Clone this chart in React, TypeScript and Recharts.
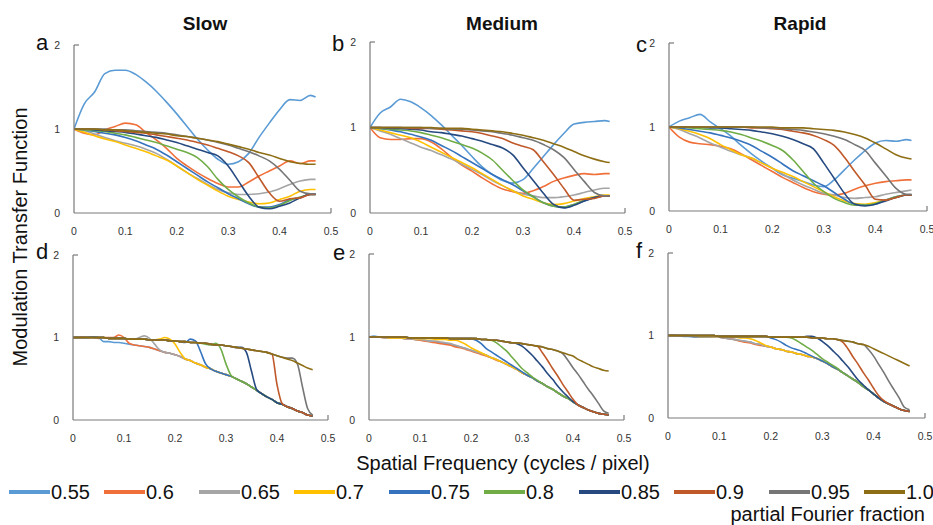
import React from "react";
import { LineChart, Line, XAxis, YAxis } from "recharts";

const FONT = '"Liberation Sans", Arial, Helvetica, sans-serif';
const AXIS_COLOR = "#7a7a7a";

// partial Fourier fractions, legend order = draw order
const FRACTIONS = ["0.55", "0.6", "0.65", "0.7", "0.75", "0.8", "0.85", "0.9", "0.95", "1.0"];
const COLORS = [
  "#5B9BD5", // 0.55
  "#F0703A", // 0.6
  "#A5A5A5", // 0.65
  "#FFC000", // 0.7
  "#3573BE", // 0.75
  "#70AD47", // 0.8
  "#264A80", // 0.85
  "#C0592A", // 0.9
  "#767676", // 0.95
  "#8E6E14", // 1.0
];

const SPEEDS = ["Slow", "Medium", "Rapid"];
const X_TICKS = [0, 0.1, 0.2, 0.3, 0.4, 0.5];
const Y_TICKS = [0, 1, 2];

// spatial frequency samples (cycles / pixel)
const FREQ_TOP = [0, 0.02, 0.04, 0.06, 0.08, 0.1, 0.12, 0.14, 0.16, 0.18, 0.2, 0.22, 0.24, 0.26, 0.28, 0.3, 0.32, 0.34, 0.36, 0.38, 0.4, 0.42, 0.44, 0.46, 0.47];
const FREQ_BOTTOM = [
  0, 0.01, 0.02, 0.03, 0.04, 0.05, 0.06, 0.07, 0.08, 0.09, 0.1, 0.11, 0.12, 0.13, 0.14, 0.15,
  0.16, 0.17, 0.18, 0.19, 0.2, 0.21, 0.22, 0.23, 0.24, 0.25, 0.26, 0.27, 0.28, 0.29, 0.3, 0.31,
  0.32, 0.33, 0.34, 0.35, 0.36, 0.37, 0.38, 0.39, 0.4, 0.41, 0.42, 0.43, 0.44, 0.45, 0.46, 0.47,
];

// a — Slow (top row), one row per fraction
const MTF_A = [
  [1.00, 1.30, 1.44, 1.66, 1.70, 1.70, 1.65, 1.56, 1.45, 1.32, 1.18, 1.03, 0.88, 0.75, 0.64, 0.58, 0.61, 0.71, 0.90, 1.07, 1.23, 1.35, 1.34, 1.40, 1.38],
  [1.00, 0.95, 0.93, 0.99, 1.03, 1.07, 1.05, 0.96, 0.87, 0.77, 0.65, 0.56, 0.48, 0.41, 0.35, 0.31, 0.31, 0.37, 0.44, 0.50, 0.56, 0.62, 0.59, 0.62, 0.62],
  [1.00, 0.98, 0.94, 0.90, 0.86, 0.83, 0.80, 0.76, 0.71, 0.64, 0.56, 0.48, 0.41, 0.34, 0.28, 0.24, 0.22, 0.22, 0.23, 0.25, 0.29, 0.34, 0.38, 0.40, 0.40],
  [1.00, 0.96, 0.92, 0.88, 0.85, 0.81, 0.77, 0.73, 0.68, 0.63, 0.56, 0.48, 0.40, 0.33, 0.26, 0.20, 0.16, 0.13, 0.11, 0.12, 0.16, 0.20, 0.26, 0.28, 0.28],
  [1.00, 0.99, 0.97, 0.95, 0.93, 0.90, 0.86, 0.81, 0.76, 0.69, 0.61, 0.53, 0.45, 0.37, 0.30, 0.23, 0.17, 0.11, 0.07, 0.07, 0.10, 0.16, 0.18, 0.23, 0.23],
  [1.00, 0.99, 0.98, 0.97, 0.95, 0.93, 0.90, 0.87, 0.84, 0.80, 0.76, 0.72, 0.66, 0.55, 0.40, 0.28, 0.19, 0.12, 0.07, 0.06, 0.09, 0.15, 0.19, 0.22, 0.22],
  [1.00, 1.00, 0.99, 0.98, 0.97, 0.96, 0.94, 0.92, 0.90, 0.87, 0.84, 0.80, 0.76, 0.72, 0.68, 0.56, 0.38, 0.20, 0.07, 0.05, 0.08, 0.12, 0.18, 0.22, 0.22],
  [1.00, 1.00, 1.00, 0.99, 0.98, 0.97, 0.96, 0.95, 0.93, 0.91, 0.89, 0.87, 0.84, 0.81, 0.77, 0.73, 0.68, 0.60, 0.42, 0.24, 0.14, 0.17, 0.18, 0.22, 0.22],
  [1.00, 1.00, 1.00, 1.00, 0.99, 0.99, 0.98, 0.97, 0.96, 0.95, 0.93, 0.91, 0.89, 0.87, 0.84, 0.81, 0.77, 0.73, 0.68, 0.62, 0.52, 0.39, 0.26, 0.23, 0.23],
  [1.00, 1.00, 1.00, 0.99, 0.99, 0.98, 0.97, 0.96, 0.95, 0.94, 0.92, 0.91, 0.89, 0.87, 0.85, 0.82, 0.79, 0.76, 0.72, 0.69, 0.65, 0.61, 0.59, 0.58, 0.58],
];

// b — Medium (top row)
const MTF_B = [
  [1.00, 1.17, 1.24, 1.33, 1.30, 1.23, 1.14, 1.03, 0.91, 0.79, 0.66, 0.54, 0.45, 0.38, 0.35, 0.39, 0.52, 0.66, 0.80, 0.93, 1.04, 1.06, 1.07, 1.08, 1.07],
  [1.00, 0.88, 0.86, 0.86, 0.87, 0.87, 0.83, 0.75, 0.65, 0.56, 0.49, 0.41, 0.34, 0.28, 0.25, 0.23, 0.26, 0.31, 0.37, 0.41, 0.44, 0.46, 0.45, 0.46, 0.46],
  [1.00, 0.96, 0.92, 0.87, 0.82, 0.77, 0.73, 0.68, 0.63, 0.57, 0.51, 0.45, 0.38, 0.32, 0.26, 0.22, 0.20, 0.18, 0.18, 0.19, 0.21, 0.24, 0.27, 0.29, 0.29],
  [1.00, 0.97, 0.94, 0.91, 0.88, 0.83, 0.77, 0.71, 0.65, 0.59, 0.53, 0.46, 0.39, 0.32, 0.26, 0.20, 0.16, 0.12, 0.10, 0.11, 0.14, 0.17, 0.19, 0.21, 0.21],
  [1.00, 0.99, 0.97, 0.95, 0.92, 0.89, 0.85, 0.79, 0.73, 0.66, 0.59, 0.52, 0.45, 0.39, 0.33, 0.26, 0.19, 0.12, 0.08, 0.07, 0.10, 0.14, 0.18, 0.20, 0.20],
  [1.00, 0.99, 0.98, 0.97, 0.96, 0.94, 0.91, 0.88, 0.84, 0.80, 0.76, 0.70, 0.62, 0.50, 0.38, 0.27, 0.19, 0.12, 0.08, 0.07, 0.10, 0.15, 0.18, 0.20, 0.20],
  [1.00, 1.00, 0.99, 0.99, 0.98, 0.97, 0.95, 0.94, 0.92, 0.90, 0.87, 0.84, 0.80, 0.76, 0.68, 0.53, 0.38, 0.23, 0.10, 0.06, 0.09, 0.14, 0.18, 0.20, 0.20],
  [1.00, 1.00, 1.00, 1.00, 0.99, 0.99, 0.99, 0.98, 0.97, 0.96, 0.95, 0.93, 0.90, 0.87, 0.82, 0.78, 0.74, 0.60, 0.45, 0.29, 0.15, 0.16, 0.17, 0.20, 0.20],
  [1.00, 1.00, 1.00, 1.00, 1.00, 1.00, 0.99, 0.99, 0.98, 0.98, 0.97, 0.96, 0.95, 0.93, 0.91, 0.88, 0.85, 0.80, 0.74, 0.65, 0.51, 0.37, 0.24, 0.20, 0.20],
  [1.00, 1.00, 1.00, 1.00, 1.00, 1.00, 1.00, 0.99, 0.99, 0.99, 0.98, 0.97, 0.96, 0.95, 0.93, 0.91, 0.88, 0.85, 0.81, 0.77, 0.72, 0.67, 0.63, 0.60, 0.59],
];

// c — Rapid (top row)
const MTF_C = [
  [1.00, 1.07, 1.11, 1.15, 1.06, 0.98, 0.89, 0.78, 0.68, 0.59, 0.51, 0.43, 0.39, 0.35, 0.31, 0.29, 0.37, 0.49, 0.61, 0.72, 0.81, 0.84, 0.83, 0.85, 0.84],
  [1.00, 0.88, 0.82, 0.80, 0.79, 0.77, 0.74, 0.68, 0.61, 0.54, 0.47, 0.40, 0.34, 0.28, 0.23, 0.20, 0.19, 0.21, 0.26, 0.30, 0.33, 0.35, 0.36, 0.37, 0.37],
  [1.00, 0.97, 0.92, 0.87, 0.81, 0.76, 0.71, 0.67, 0.63, 0.57, 0.51, 0.44, 0.37, 0.31, 0.26, 0.21, 0.19, 0.16, 0.15, 0.16, 0.17, 0.20, 0.22, 0.24, 0.25],
  [1.00, 0.98, 0.95, 0.91, 0.86, 0.79, 0.73, 0.67, 0.63, 0.57, 0.51, 0.46, 0.41, 0.35, 0.29, 0.23, 0.17, 0.12, 0.09, 0.08, 0.10, 0.13, 0.16, 0.19, 0.19],
  [1.00, 0.99, 0.97, 0.95, 0.93, 0.90, 0.87, 0.83, 0.78, 0.71, 0.64, 0.56, 0.48, 0.42, 0.36, 0.30, 0.22, 0.14, 0.08, 0.07, 0.08, 0.13, 0.17, 0.19, 0.19],
  [1.00, 1.00, 0.99, 0.98, 0.97, 0.96, 0.94, 0.91, 0.87, 0.83, 0.78, 0.72, 0.61, 0.47, 0.33, 0.23, 0.15, 0.10, 0.07, 0.07, 0.09, 0.13, 0.17, 0.19, 0.19],
  [1.00, 1.00, 1.00, 1.00, 0.99, 0.99, 0.98, 0.97, 0.96, 0.94, 0.92, 0.89, 0.85, 0.80, 0.74, 0.57, 0.39, 0.21, 0.08, 0.06, 0.08, 0.12, 0.16, 0.19, 0.19],
  [1.00, 1.00, 1.00, 1.00, 1.00, 1.00, 1.00, 1.00, 0.99, 0.99, 0.98, 0.97, 0.95, 0.93, 0.90, 0.85, 0.78, 0.64, 0.47, 0.31, 0.14, 0.13, 0.16, 0.19, 0.19],
  [1.00, 1.00, 1.00, 1.00, 1.00, 1.00, 1.00, 1.00, 1.00, 0.99, 0.99, 0.98, 0.97, 0.96, 0.94, 0.92, 0.89, 0.85, 0.79, 0.72, 0.57, 0.42, 0.27, 0.20, 0.20],
  [1.00, 1.00, 1.00, 1.00, 1.00, 1.00, 1.00, 1.00, 1.00, 1.00, 1.00, 0.99, 0.99, 0.99, 0.98, 0.97, 0.96, 0.94, 0.91, 0.87, 0.81, 0.74, 0.67, 0.63, 0.62],
];

// d — Slow (bottom row, 0.01 steps)
const MTF_D = [
  [1.00, 1.01, 1.00, 1.00, 1.01, 1.00, 0.95, 0.95, 0.94, 0.94, 0.93, 0.92, 0.91, 0.90, 0.89, 0.88, 0.86, 0.84, 0.82, 0.81, 0.79, 0.77, 0.74, 0.72, 0.69, 0.67, 0.64, 0.62, 0.59, 0.57, 0.55, 0.53, 0.50, 0.47, 0.44, 0.40, 0.36, 0.32, 0.28, 0.25, 0.21, 0.19, 0.16, 0.14, 0.11, 0.09, 0.06, 0.05],
  [1.00, 1.00, 1.01, 1.00, 1.00, 0.99, 1.00, 1.00, 1.00, 1.03, 1.00, 0.93, 0.91, 0.90, 0.89, 0.88, 0.86, 0.84, 0.82, 0.81, 0.79, 0.77, 0.74, 0.72, 0.69, 0.67, 0.64, 0.62, 0.59, 0.57, 0.55, 0.53, 0.50, 0.47, 0.44, 0.40, 0.36, 0.32, 0.28, 0.25, 0.21, 0.19, 0.16, 0.14, 0.11, 0.09, 0.06, 0.05],
  [1.00, 1.00, 1.00, 1.01, 1.00, 1.00, 1.00, 0.99, 1.00, 0.99, 0.99, 0.98, 0.98, 1.00, 1.02, 0.99, 0.92, 0.85, 0.82, 0.81, 0.79, 0.77, 0.74, 0.72, 0.69, 0.67, 0.64, 0.62, 0.59, 0.57, 0.55, 0.53, 0.50, 0.47, 0.44, 0.40, 0.36, 0.32, 0.28, 0.25, 0.21, 0.19, 0.16, 0.14, 0.11, 0.09, 0.06, 0.05],
  [1.00, 1.00, 1.00, 1.00, 1.00, 1.00, 1.00, 0.99, 0.99, 0.99, 0.99, 0.98, 0.98, 0.98, 0.98, 0.97, 0.97, 0.98, 1.00, 0.98, 0.92, 0.82, 0.74, 0.72, 0.69, 0.67, 0.64, 0.62, 0.59, 0.57, 0.55, 0.53, 0.50, 0.47, 0.44, 0.40, 0.36, 0.32, 0.28, 0.25, 0.21, 0.19, 0.16, 0.14, 0.11, 0.09, 0.06, 0.05],
  [1.00, 1.00, 1.00, 1.00, 1.01, 1.00, 1.00, 0.99, 0.99, 0.99, 0.99, 0.98, 0.98, 0.98, 0.98, 0.97, 0.97, 0.97, 0.97, 0.96, 0.96, 0.95, 0.94, 0.98, 0.96, 0.83, 0.68, 0.62, 0.59, 0.57, 0.55, 0.53, 0.50, 0.47, 0.44, 0.40, 0.36, 0.32, 0.28, 0.25, 0.21, 0.19, 0.16, 0.14, 0.11, 0.09, 0.06, 0.05],
  [1.00, 1.00, 1.00, 1.00, 1.00, 1.00, 1.00, 0.99, 0.99, 0.99, 0.99, 0.98, 0.98, 0.98, 0.98, 0.97, 0.97, 0.97, 0.97, 0.96, 0.96, 0.95, 0.95, 0.94, 0.94, 0.93, 0.92, 0.91, 0.93, 0.86, 0.68, 0.54, 0.50, 0.47, 0.44, 0.40, 0.36, 0.32, 0.28, 0.25, 0.21, 0.19, 0.16, 0.14, 0.11, 0.09, 0.06, 0.05],
  [1.00, 1.00, 1.00, 1.00, 1.00, 1.00, 1.00, 0.99, 0.99, 0.99, 0.99, 0.98, 0.98, 0.98, 0.98, 0.97, 0.97, 0.97, 0.97, 0.96, 0.96, 0.95, 0.95, 0.94, 0.94, 0.93, 0.93, 0.92, 0.91, 0.91, 0.90, 0.89, 0.88, 0.88, 0.82, 0.59, 0.37, 0.32, 0.28, 0.25, 0.21, 0.19, 0.16, 0.14, 0.11, 0.09, 0.06, 0.05],
  [1.00, 1.00, 1.00, 1.00, 1.00, 1.00, 1.00, 0.99, 0.99, 0.99, 0.99, 0.98, 0.98, 0.98, 0.98, 0.97, 0.97, 0.97, 0.97, 0.96, 0.96, 0.95, 0.95, 0.94, 0.94, 0.93, 0.93, 0.92, 0.91, 0.91, 0.90, 0.89, 0.88, 0.87, 0.86, 0.85, 0.84, 0.83, 0.82, 0.80, 0.43, 0.20, 0.16, 0.14, 0.11, 0.09, 0.06, 0.05],
  [1.00, 1.00, 1.00, 1.00, 1.00, 1.00, 1.00, 0.99, 0.99, 0.99, 0.99, 0.98, 0.98, 0.98, 0.98, 0.97, 0.97, 0.97, 0.97, 0.96, 0.96, 0.95, 0.95, 0.94, 0.94, 0.93, 0.93, 0.92, 0.91, 0.91, 0.90, 0.89, 0.88, 0.87, 0.86, 0.85, 0.84, 0.83, 0.82, 0.80, 0.78, 0.76, 0.75, 0.75, 0.68, 0.40, 0.14, 0.06],
  [1.00, 1.00, 1.00, 1.00, 1.00, 1.00, 1.00, 0.99, 0.99, 0.99, 0.99, 0.98, 0.98, 0.98, 0.98, 0.97, 0.97, 0.97, 0.97, 0.96, 0.96, 0.95, 0.95, 0.94, 0.94, 0.93, 0.93, 0.92, 0.91, 0.91, 0.90, 0.89, 0.88, 0.87, 0.86, 0.85, 0.84, 0.83, 0.82, 0.80, 0.78, 0.76, 0.74, 0.72, 0.69, 0.66, 0.63, 0.61],
];

// e — Medium (bottom row, 0.01 steps)
const MTF_E = [
  [1.00, 1.01, 1.00, 1.00, 0.99, 0.99, 0.99, 0.98, 0.98, 0.97, 0.97, 0.96, 0.95, 0.94, 0.93, 0.92, 0.91, 0.89, 0.88, 0.86, 0.84, 0.82, 0.80, 0.78, 0.75, 0.73, 0.70, 0.67, 0.64, 0.61, 0.57, 0.54, 0.51, 0.47, 0.44, 0.40, 0.37, 0.33, 0.29, 0.26, 0.22, 0.18, 0.15, 0.12, 0.10, 0.08, 0.07, 0.06],
  [1.00, 1.00, 1.00, 0.99, 0.99, 0.99, 0.99, 0.98, 0.98, 0.97, 0.96, 0.95, 0.94, 0.93, 0.92, 0.91, 0.90, 0.88, 0.87, 0.85, 0.83, 0.81, 0.79, 0.77, 0.75, 0.72, 0.70, 0.67, 0.64, 0.61, 0.57, 0.54, 0.51, 0.47, 0.44, 0.40, 0.37, 0.33, 0.29, 0.26, 0.22, 0.18, 0.15, 0.12, 0.10, 0.08, 0.07, 0.06],
  [1.00, 1.00, 1.00, 0.99, 0.99, 0.99, 0.99, 0.98, 0.98, 0.97, 0.97, 0.96, 0.95, 0.95, 0.94, 0.93, 0.92, 0.90, 0.88, 0.86, 0.84, 0.82, 0.80, 0.78, 0.75, 0.73, 0.70, 0.67, 0.64, 0.61, 0.57, 0.54, 0.51, 0.47, 0.44, 0.40, 0.37, 0.33, 0.29, 0.26, 0.22, 0.18, 0.15, 0.12, 0.10, 0.08, 0.07, 0.06],
  [1.00, 1.00, 1.00, 1.00, 0.99, 0.99, 0.99, 0.99, 0.99, 0.98, 0.98, 0.98, 0.98, 0.97, 0.97, 0.97, 0.96, 0.96, 0.94, 0.91, 0.87, 0.84, 0.81, 0.78, 0.75, 0.73, 0.70, 0.67, 0.64, 0.61, 0.57, 0.54, 0.51, 0.47, 0.44, 0.40, 0.37, 0.33, 0.29, 0.26, 0.22, 0.18, 0.15, 0.12, 0.10, 0.08, 0.07, 0.06],
  [1.00, 1.00, 1.00, 1.00, 1.00, 1.00, 1.00, 1.00, 0.99, 0.99, 0.99, 0.99, 0.99, 0.99, 0.99, 0.99, 0.98, 0.98, 0.98, 0.98, 0.98, 0.96, 0.92, 0.86, 0.82, 0.78, 0.74, 0.70, 0.66, 0.62, 0.58, 0.54, 0.51, 0.47, 0.44, 0.40, 0.37, 0.33, 0.29, 0.26, 0.22, 0.18, 0.15, 0.12, 0.10, 0.08, 0.07, 0.06],
  [1.00, 1.00, 1.00, 1.00, 1.00, 1.00, 1.00, 1.00, 0.99, 0.99, 0.99, 0.99, 0.99, 0.99, 0.99, 0.99, 0.98, 0.98, 0.98, 0.98, 0.98, 0.98, 0.97, 0.97, 0.96, 0.93, 0.88, 0.83, 0.76, 0.69, 0.62, 0.57, 0.52, 0.48, 0.44, 0.40, 0.37, 0.33, 0.29, 0.26, 0.22, 0.18, 0.15, 0.12, 0.10, 0.08, 0.07, 0.06],
  [1.00, 1.00, 1.00, 1.00, 1.00, 1.00, 1.00, 1.00, 0.99, 0.99, 0.99, 0.99, 0.99, 0.99, 0.99, 0.99, 0.98, 0.98, 0.98, 0.98, 0.98, 0.98, 0.97, 0.97, 0.96, 0.96, 0.95, 0.94, 0.93, 0.92, 0.89, 0.84, 0.78, 0.71, 0.64, 0.56, 0.49, 0.41, 0.34, 0.28, 0.22, 0.18, 0.15, 0.12, 0.10, 0.08, 0.07, 0.06],
  [1.00, 1.00, 1.00, 1.00, 1.00, 1.00, 1.00, 1.00, 0.99, 0.99, 0.99, 0.99, 0.99, 0.99, 0.99, 0.99, 0.98, 0.98, 0.98, 0.98, 0.98, 0.98, 0.97, 0.97, 0.96, 0.96, 0.95, 0.94, 0.93, 0.93, 0.92, 0.91, 0.90, 0.89, 0.81, 0.72, 0.62, 0.53, 0.43, 0.34, 0.25, 0.18, 0.15, 0.12, 0.10, 0.08, 0.07, 0.06],
  [1.00, 1.00, 1.00, 1.00, 1.00, 1.00, 1.00, 1.00, 0.99, 0.99, 0.99, 0.99, 0.99, 0.99, 0.99, 0.99, 0.98, 0.98, 0.98, 0.98, 0.98, 0.98, 0.97, 0.97, 0.96, 0.96, 0.95, 0.94, 0.93, 0.93, 0.92, 0.91, 0.90, 0.89, 0.88, 0.86, 0.85, 0.83, 0.80, 0.72, 0.63, 0.55, 0.46, 0.37, 0.29, 0.20, 0.11, 0.08],
  [1.00, 1.00, 1.00, 1.00, 1.00, 1.00, 1.00, 1.00, 0.99, 0.99, 0.99, 0.99, 0.99, 0.99, 0.99, 0.99, 0.98, 0.98, 0.98, 0.98, 0.98, 0.98, 0.97, 0.97, 0.96, 0.96, 0.95, 0.94, 0.93, 0.93, 0.92, 0.91, 0.90, 0.89, 0.88, 0.86, 0.85, 0.83, 0.81, 0.79, 0.77, 0.73, 0.70, 0.67, 0.64, 0.62, 0.60, 0.59],
];

// f — Rapid (bottom row, 0.01 steps)
const MTF_F = [
  [1.00, 1.01, 1.00, 0.99, 0.99, 0.98, 0.98, 0.98, 0.98, 0.98, 0.98, 0.97, 0.96, 0.95, 0.94, 0.93, 0.92, 0.90, 0.89, 0.87, 0.86, 0.84, 0.83, 0.81, 0.80, 0.78, 0.77, 0.75, 0.74, 0.72, 0.69, 0.66, 0.62, 0.59, 0.55, 0.51, 0.47, 0.43, 0.38, 0.34, 0.29, 0.24, 0.20, 0.17, 0.14, 0.11, 0.09, 0.08],
  [1.00, 1.00, 1.00, 1.00, 1.00, 0.99, 0.99, 0.99, 0.99, 0.98, 0.98, 0.97, 0.96, 0.95, 0.93, 0.92, 0.91, 0.89, 0.88, 0.87, 0.86, 0.84, 0.83, 0.81, 0.80, 0.78, 0.77, 0.75, 0.74, 0.72, 0.69, 0.66, 0.62, 0.59, 0.55, 0.51, 0.47, 0.43, 0.38, 0.34, 0.29, 0.24, 0.20, 0.17, 0.14, 0.11, 0.09, 0.08],
  [1.00, 1.00, 1.00, 1.00, 1.00, 0.99, 0.99, 0.99, 0.99, 0.98, 0.98, 0.97, 0.96, 0.95, 0.94, 0.93, 0.92, 0.90, 0.89, 0.87, 0.86, 0.84, 0.83, 0.81, 0.80, 0.78, 0.77, 0.75, 0.74, 0.72, 0.69, 0.66, 0.62, 0.59, 0.55, 0.51, 0.47, 0.43, 0.38, 0.34, 0.29, 0.24, 0.20, 0.17, 0.14, 0.11, 0.09, 0.08],
  [1.00, 1.00, 1.00, 1.00, 1.00, 1.00, 0.99, 0.99, 0.99, 0.99, 0.99, 0.98, 0.98, 0.98, 0.97, 0.97, 0.96, 0.94, 0.91, 0.88, 0.86, 0.84, 0.83, 0.81, 0.80, 0.78, 0.77, 0.75, 0.74, 0.72, 0.69, 0.66, 0.62, 0.59, 0.55, 0.51, 0.47, 0.43, 0.38, 0.34, 0.29, 0.24, 0.20, 0.17, 0.14, 0.11, 0.09, 0.08],
  [1.00, 1.00, 1.00, 1.00, 1.00, 1.00, 1.00, 1.00, 1.00, 1.00, 0.99, 0.99, 0.99, 0.99, 0.99, 0.99, 0.99, 0.99, 0.99, 0.99, 0.97, 0.95, 0.92, 0.88, 0.85, 0.83, 0.81, 0.78, 0.75, 0.72, 0.69, 0.66, 0.62, 0.59, 0.55, 0.51, 0.47, 0.43, 0.38, 0.34, 0.29, 0.24, 0.20, 0.17, 0.14, 0.11, 0.09, 0.08],
  [1.00, 1.00, 1.00, 1.00, 1.00, 1.00, 1.00, 1.00, 1.00, 1.00, 0.99, 0.99, 0.99, 0.99, 0.99, 0.99, 0.99, 0.99, 0.99, 0.99, 0.98, 0.98, 0.98, 0.98, 0.97, 0.94, 0.90, 0.86, 0.82, 0.77, 0.72, 0.68, 0.64, 0.60, 0.55, 0.51, 0.47, 0.43, 0.38, 0.34, 0.29, 0.24, 0.20, 0.17, 0.14, 0.11, 0.09, 0.08],
  [1.00, 1.00, 1.00, 1.00, 1.00, 1.00, 1.00, 1.00, 1.00, 1.00, 0.99, 0.99, 0.99, 0.99, 0.99, 0.99, 0.99, 0.99, 0.99, 0.99, 0.98, 0.98, 0.98, 0.98, 0.98, 0.98, 0.98, 0.99, 0.99, 0.97, 0.93, 0.88, 0.82, 0.76, 0.69, 0.62, 0.54, 0.46, 0.40, 0.34, 0.29, 0.24, 0.20, 0.17, 0.14, 0.11, 0.09, 0.08],
  [1.00, 1.00, 1.00, 1.00, 1.00, 1.00, 1.00, 1.00, 1.00, 1.00, 0.99, 0.99, 0.99, 0.99, 0.99, 0.99, 0.99, 0.99, 0.99, 0.99, 0.98, 0.98, 0.98, 0.98, 0.98, 0.98, 0.98, 0.98, 0.97, 0.97, 0.97, 0.96, 0.96, 0.95, 0.92, 0.84, 0.74, 0.65, 0.55, 0.46, 0.36, 0.27, 0.21, 0.17, 0.14, 0.11, 0.09, 0.08],
  [1.00, 1.00, 1.00, 1.00, 1.00, 1.00, 1.00, 1.00, 1.00, 1.00, 0.99, 0.99, 0.99, 0.99, 0.99, 0.99, 0.99, 0.99, 0.99, 0.99, 0.98, 0.98, 0.98, 0.98, 0.98, 0.98, 0.98, 0.98, 0.97, 0.97, 0.97, 0.96, 0.96, 0.95, 0.94, 0.93, 0.92, 0.90, 0.89, 0.83, 0.75, 0.65, 0.55, 0.44, 0.34, 0.24, 0.13, 0.10],
  [1.00, 1.00, 1.00, 1.00, 1.00, 1.00, 1.00, 1.00, 1.00, 1.00, 0.99, 0.99, 0.99, 0.99, 0.99, 0.99, 0.99, 0.99, 0.99, 0.99, 0.98, 0.98, 0.98, 0.98, 0.98, 0.98, 0.98, 0.98, 0.97, 0.97, 0.97, 0.96, 0.96, 0.95, 0.94, 0.93, 0.92, 0.90, 0.89, 0.87, 0.84, 0.81, 0.78, 0.75, 0.72, 0.69, 0.66, 0.63],
];

// panel placement: left/top = plot origin (x=0 / y=2), w/h = plot size in px
const PANELS = [
  { letter: "a", rows: MTF_A, freq: FREQ_TOP, left: 74, top: 45, w: 257, h: 168, lx: 36, ly: 50 },
  { letter: "b", rows: MTF_B, freq: FREQ_TOP, left: 370, top: 42, w: 255, h: 171, lx: 332, ly: 51 },
  { letter: "c", rows: MTF_C, freq: FREQ_TOP, left: 669, top: 43, w: 258, h: 168, lx: 636, ly: 52 },
  { letter: "d", rows: MTF_D, freq: FREQ_BOTTOM, left: 73, top: 255, w: 255, h: 165, lx: 36, ly: 259 },
  { letter: "e", rows: MTF_E, freq: FREQ_BOTTOM, left: 369, top: 254, w: 255, h: 166, lx: 333, ly: 260 },
  { letter: "f", rows: MTF_F, freq: FREQ_BOTTOM, left: 668, top: 253, w: 257, h: 165, lx: 636, ly: 258 },
];

const TITLE_X = [205, 502, 800];

function XTick(props: any) {
  const { x, y, payload } = props;
  const v = payload.value;
  return (
    <g>
      <text x={x} y={y + 22} textAnchor="middle" fontSize={10.5} fill="#333" fontFamily={FONT}>
        {String(v)}
      </text>
      {v === 0.5 && <line x1={x} x2={x} y1={y} y2={y - 5} stroke={AXIS_COLOR} strokeWidth={1.2} />}
    </g>
  );
}

function YTick(props: any) {
  const { x, y, payload } = props;
  const v = payload.value;
  return (
    <g>
      <text x={x - 14} y={y + 3.5} textAnchor="end" fontSize={10.5} fill="#333" fontFamily={FONT}>
        {String(v)}
      </text>
      {v === 2 && <line x1={x} x2={x + 5} y1={y} y2={y} stroke={AXIS_COLOR} strokeWidth={1.2} />}
    </g>
  );
}

function Panel({ p }: { p: (typeof PANELS)[number] }) {
  const data = p.freq.map((f, i) => {
    const row: Record<string, number> = { f };
    p.rows.forEach((r, k) => {
      row["s" + k] = r[i];
    });
    return row;
  });
  const yW = 30;
  const mt = 8;
  const mr = 14;
  const xH = 26;
  return (
    <div style={{ position: "absolute", left: p.left - yW, top: p.top - mt }}>
      <LineChart
        width={p.w + yW + mr}
        height={p.h + mt + xH}
        data={data}
        margin={{ top: mt, right: mr, bottom: 0, left: 0 }}
      >
        <XAxis
          dataKey="f"
          type="number"
          domain={[0, 0.5]}
          ticks={X_TICKS}
          interval={0}
          height={xH}
          tickSize={0}
          tickMargin={0}
          tickLine={false}
          tick={<XTick />}
          axisLine={{ stroke: AXIS_COLOR, strokeWidth: 1.2 }}
          allowDataOverflow
        />
        <YAxis
          type="number"
          domain={[0, 2]}
          ticks={Y_TICKS}
          interval={0}
          width={yW}
          tickSize={0}
          tickMargin={0}
          tickLine={false}
          tick={<YTick />}
          axisLine={{ stroke: AXIS_COLOR, strokeWidth: 1.2 }}
          allowDataOverflow
        />
        {FRACTIONS.map((fr, k) => (
          <Line
            key={fr}
            dataKey={"s" + k}
            name={fr}
            type="monotone"
            stroke={COLORS[k]}
            strokeWidth={1.6}
            dot={false}
            activeDot={false}
            isAnimationActive={false}
          />
        ))}
      </LineChart>
    </div>
  );
}

export default function App() {
  return (
    <div
      style={{
        position: "absolute",
        left: 0,
        top: 0,
        width: 933,
        height: 525,
        overflow: "hidden",
        background: "#fff",
        fontFamily: FONT,
      }}
    >
      {PANELS.map((p) => (
        <Panel key={p.letter} p={p} />
      ))}
      <svg
        width={933}
        height={525}
        style={{ position: "absolute", left: 0, top: 0, pointerEvents: "none" }}
        fontFamily={FONT}
      >
        {SPEEDS.map((s, i) => (
          <text key={s} x={TITLE_X[i]} y={30} textAnchor="middle" fontSize={19} fontWeight="bold" fill="#111">
            {s}
          </text>
        ))}
        {PANELS.map((p) => (
          <text key={p.letter} x={p.lx} y={p.ly} fontSize={22} fill="#111">
            {p.letter}
          </text>
        ))}
        <text x={27} y={237} transform="rotate(-90 27 237)" textAnchor="middle" fontSize={20} fill="#111">
          Modulation Transfer Function
        </text>
        <text x={503} y={470} textAnchor="middle" fontSize={20} fill="#111">
          Spatial Frequency (cycles / pixel)
        </text>
        {FRACTIONS.map((fr, i) => {
          const x0 = 9 + 95 * i;
          return (
            <g key={fr}>
              <line x1={x0} x2={x0 + 41} y1={492} y2={492} stroke={COLORS[i]} strokeWidth={4} />
              <text x={x0 + 42} y={499} fontSize={20} fill="#111">
                {fr}
              </text>
            </g>
          );
        })}
        <text x={925} y={521} textAnchor="end" fontSize={20} fill="#111">
          partial Fourier fraction
        </text>
      </svg>
    </div>
  );
}
